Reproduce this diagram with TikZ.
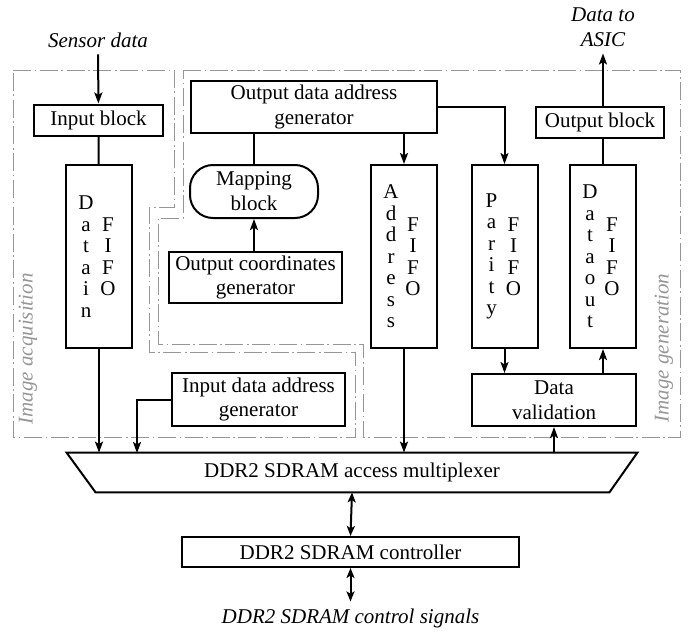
\documentclass[tikz,border=0pt]{standalone}
\usepackage{fontspec}
\setmainfont{Liberation Serif}
\usetikzlibrary{arrows.meta,calc}

\definecolor{regiongray}{RGB}{150,150,150}

\begin{document}
\begin{tikzpicture}[x=0.5pt,y=-0.5pt,
  font=\fontsize{10.5}{12.4}\selectfont,
  blk/.style={draw,line width=1pt,inner sep=0pt,align=center},
  fifobox/.style={blk,minimum width=33pt,minimum height=91.5pt},
  fifotext/.style={inner sep=0pt,align=center,font=\fontsize{10.5}{10.75}\selectfont},
  link/.style={line width=1pt},
  flow/.style={link,-{Stealth[length=5.5pt,width=4pt,inset=1.2pt]}},
  both/.style={link,{Stealth[length=5pt,width=4pt,inset=1.2pt]}-{Stealth[length=5pt,width=4pt,inset=1.2pt]}},
  region/.style={draw=regiongray,line width=0.5pt,dash pattern=on 9pt off 1.8pt on 0.8pt off 1.8pt},
  regionlabel/.style={text=regiongray,font=\fontsize{10.5}{12}\selectfont\itshape,rotate=90},
  ext/.style={font=\fontsize{10.5}{12.4}\selectfont\itshape,align=center}
]
\useasboundingbox (0,0) rectangle (697,633);

% dash-dotted outlines of the two processing domains
\draw[region] (13,70) -- (174,70) -- (174,207) -- (149,207) -- (149,352)
  -- (355,352) -- (355,437) -- (13,437) -- cycle;
\draw[region] (183,70) -- (680,70) -- (680,437) -- (363,437) -- (363,344)
  -- (158,344) -- (158,218) -- (183,218) -- cycle;
\node[regionlabel] (acqlabel) at (28,349) {Image acquisition};
\node[regionlabel] (genlabel) at (664,348) {Image generation};

% acquisition path
\node[ext] (sensor) at (98,40) {Sensor data};
\node[blk,minimum width=64.5pt,minimum height=15.5pt] (inblock) at (98.5,120) {Input block};
\node[fifobox] (datain) at (99,256.5) {};
\node[fifotext] (datain-l) at ($(datain.center)+(-13,0)$) {D\\a\\t\\a\\i\\n};
\node[fifotext] (datain-r) at ($(datain.center)+(9,0)$) {F\\I\\F\\O};
\node[blk,minimum width=86.5pt,minimum height=26.5pt] (idag) at (258.5,399.5) {Input data address\\generator};

% generation path
\node[blk,minimum width=123pt,minimum height=26pt] (oadg) at (314,107) {Output data address\\generator};
\node[blk,rounded corners=11.5pt,minimum width=64pt,minimum height=26.5pt] (mapping) at (254,191.5) {Mapping\\block};
\node[blk,minimum width=86.5pt,minimum height=25.5pt] (ocg) at (255.5,277.5) {Output coordinates\\generator};
\node[fifobox] (addr) at (404,256.5) {};
\node[fifotext] (addr-l) at ($(addr.center)+(-13,0)$) {A\\d\\d\\r\\e\\s\\s};
\node[fifotext] (addr-r) at ($(addr.center)+(9,0)$) {F\\I\\F\\O};
\node[fifobox] (parity) at (504.5,256.5) {};
\node[fifotext] (parity-l) at ($(parity.center)+(-13,0)$) {P\\a\\r\\i\\t\\y};
\node[fifotext] (parity-r) at ($(parity.center)+(9,0)$) {F\\I\\F\\O};
\node[fifobox] (dataout) at (603,256.5) {};
\node[fifotext] (dataout-l) at ($(dataout.center)+(-13,0)$) {D\\a\\t\\a\\o\\u\\t};
\node[fifotext] (dataout-r) at ($(dataout.center)+(9,0)$) {F\\I\\F\\O};
\node[blk,minimum width=64pt,minimum height=15.5pt] (outblock) at (600,122.5) {Output block};
\node[ext] (asic) at (603,27) {Data to\\ASIC};
\node[blk,minimum width=82pt,minimum height=26pt] (dval) at (554,400) {Data\\validation};

% memory side
\node[inner sep=0pt,minimum width=285pt,minimum height=19.5pt] (mux) at (352,472.5) {DDR2 SDRAM access multiplexer};
\draw[line width=1pt] (mux.north west) -- (mux.north east)
  -- ($(mux.south east)+(-28,0)$) -- ($(mux.south west)+(29,0)$) -- cycle;
\node[blk,minimum width=168.5pt,minimum height=15pt] (ctrl) at (350.5,552) {DDR2 SDRAM controller};
\node[ext] (signals) at (350.5,618) {DDR2 SDRAM control signals};
\coordinate (idagin) at (137,453);

% connections
\draw[flow] (sensor) -- (inblock);
\draw[link] (inblock) -- (datain);
\draw[flow] (datain.south) -- (datain.south |- mux.north);
\draw[flow] (idag.west) -| (idagin);
\draw[link] (mapping.north |- oadg.south) -- (mapping.north);
\draw[flow] (mapping.south |- ocg.north) -- (mapping.south);
\draw[flow] (addr.north |- oadg.south) -- (addr.north);
\draw[flow] (oadg.east) -| (parity.north);
\draw[link] (dataout.north) -- (dataout.north |- outblock.south);
\draw[flow] (dataout.north |- outblock.north) -- (dataout.north |- asic.south);
\draw[flow] (parity.south) -- (parity.south |- dval.north);
\draw[flow] (dataout.south |- dval.north) -- (dataout.south);
\draw[flow] (addr.south) -- (addr.south |- mux.north);
\draw[flow] (dval.south |- mux.north) -- (dval.south);
\draw[both] (mux.south) -- (ctrl.north);
\draw[both] (ctrl.south) -- (signals.north);
\end{tikzpicture}
\end{document}
